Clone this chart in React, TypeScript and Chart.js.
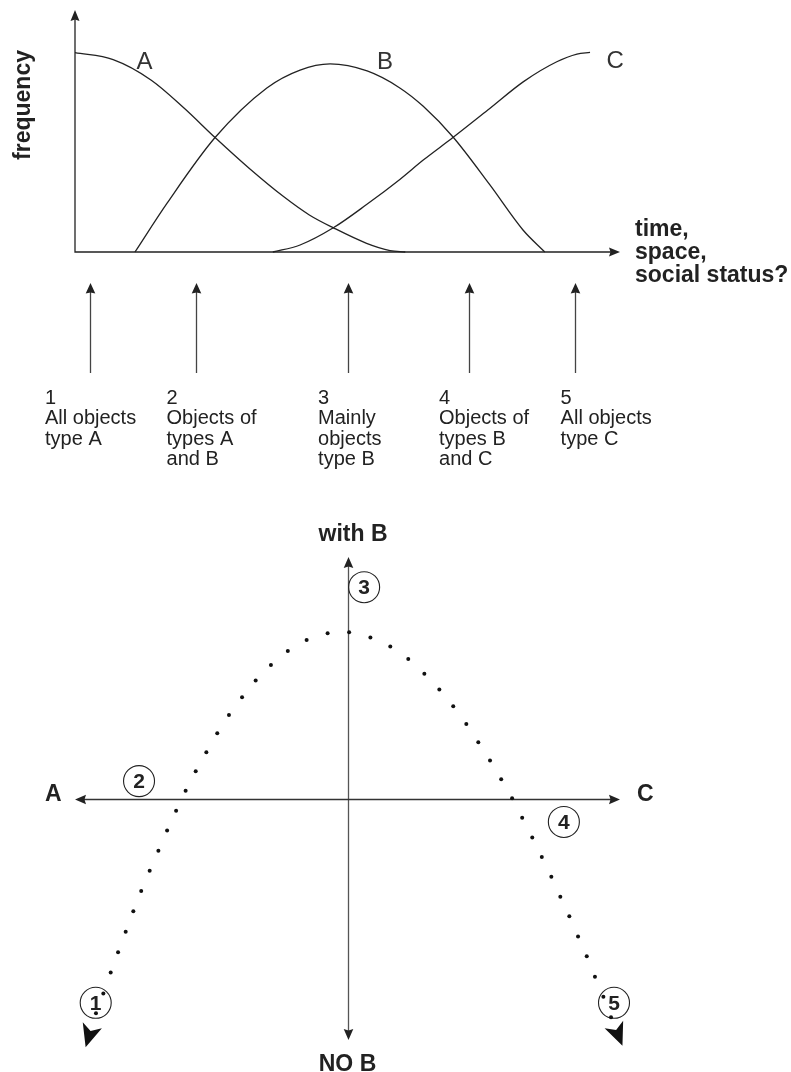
import React, { useEffect, useRef } from "react";
import { Chart, registerables } from "chart.js";

Chart.register(...registerables);

// ================= TOP CHART DATA =================
// x: 0..100 along "time, space, social status?" ; y: 0..100 frequency
const curveA = [
  { x: 0, y: 82.4 }, { x: 7, y: 79.5 }, { x: 14, y: 71.0 }, { x: 20, y: 59.5 },
  { x: 25.7, y: 47.3 }, { x: 32, y: 34.5 }, { x: 38.2, y: 23.0 }, { x: 43, y: 15.3 },
  { x: 47.4, y: 10.0 }, { x: 53.5, y: 3.6 }, { x: 57.8, y: 0.6 }, { x: 60.6, y: 0 },
];
const curveB = [
  { x: 11.0, y: 0 }, { x: 16.9, y: 20.2 }, { x: 25.7, y: 47.3 }, { x: 35.2, y: 67.8 },
  { x: 41.3, y: 75.2 }, { x: 46.8, y: 77.7 }, { x: 53.6, y: 74.8 }, { x: 59.6, y: 67.8 },
  { x: 63.9, y: 60.2 }, { x: 69.4, y: 47.4 }, { x: 76.1, y: 27.8 }, { x: 82.2, y: 9.1 },
  { x: 86.2, y: 0 },
];
const curveC = [
  { x: 36.3, y: 0 }, { x: 41.3, y: 2.9 }, { x: 47.4, y: 10.0 }, { x: 53.5, y: 19.6 },
  { x: 59.6, y: 30.0 }, { x: 63.9, y: 38.0 }, { x: 69.4, y: 47.4 }, { x: 76.1, y: 59.3 },
  { x: 82.3, y: 70.4 }, { x: 88.4, y: 78.6 }, { x: 92.1, y: 81.8 }, { x: 94.5, y: 82.5 },
];
const curveNames = ["A", "B", "C"];
const curveNamePos = [
  { x: 12.75, y: 78.3 },
  { x: 56.9, y: 78.3 },
  { x: 99.1, y: 78.7 },
];
const stageArrowX = [2.8, 22.2, 50.1, 72.3, 91.8];
const stageTextX = [-5.5, 16.8, 44.6, 66.8, 89.1];
const stageTexts = [
  ["1", "All objects", "type A"],
  ["2", "Objects of", "types A", "and B"],
  ["3", "Mainly", "objects", "type B"],
  ["4", "Objects of", "types B", "and C"],
  ["5", "All objects", "type C"],
];
const topYTitle = "frequency";
const topXTitle = ["time,", "space,", "social status?"];

// ================= BOTTOM CHART DATA =================
// x: -100 (A) .. 100 (C) ; y: -100 (NO B) .. 100 (with B)
const pathDots = [
  { x: -92.3, y: -88.9 }, { x: -89.6, y: -80.7 }, { x: -86.9, y: -72.1 }, { x: -84.2, y: -63.7 },
  { x: -81.4, y: -55.2 }, { x: -78.6, y: -46.7 }, { x: -75.7, y: -38.3 }, { x: -72.6, y: -29.9 },
  { x: -69.4, y: -21.6 }, { x: -66.2, y: -13.3 }, { x: -62.9, y: -5.1 }, { x: -59.4, y: 3.2 },
  { x: -55.7, y: 11.3 }, { x: -51.8, y: 19.1 }, { x: -47.8, y: 27.0 }, { x: -43.5, y: 34.6 },
  { x: -38.7, y: 41.9 }, { x: -33.7, y: 48.9 }, { x: -28.1, y: 55.3 }, { x: -21.9, y: 61.1 },
  { x: -15.0, y: 65.6 }, { x: -7.3, y: 68.4 }, { x: 0.6, y: 68.8 }, { x: 8.4, y: 66.7 },
  { x: 15.7, y: 62.9 }, { x: 22.3, y: 57.8 }, { x: 28.2, y: 51.7 }, { x: 33.7, y: 45.1 },
  { x: 38.8, y: 38.2 }, { x: 43.6, y: 30.8 }, { x: 48.0, y: 23.3 }, { x: 52.3, y: 15.7 },
  { x: 56.4, y: 8.0 }, { x: 60.4, y: 0.1 }, { x: 64.1, y: -8.0 }, { x: 67.8, y: -16.1 },
  { x: 71.3, y: -24.2 }, { x: 74.8, y: -32.4 }, { x: 78.1, y: -40.7 }, { x: 81.4, y: -48.8 },
  { x: 84.6, y: -57.1 }, { x: 87.8, y: -65.3 }, { x: 90.8, y: -73.8 }, { x: 93.9, y: -82.1 },
  { x: 96.7, y: -90.6 },
];
const pathArrowTips = [
  { x: -96.1, y: -103.0, from: { x: -92.3, y: -88.9 } },
  { x: 100.9, y: -102.4, from: { x: 96.7, y: -90.6 } },
];
const stageCircleLabels = ["1", "2", "3", "4", "5"];
const stageCirclePos = [
  { x: -92.4, y: -84.6 },
  { x: -76.5, y: 7.2 },
  { x: 6.1, y: 87.5 },
  { x: 79.4, y: -9.7 },
  { x: 97.8, y: -84.6 },
];
const axisEndLabels = { top: "with B", bottom: "NO B", left: "A", right: "C" };

const FONT = '"Liberation Sans", Arial, Helvetica, sans-serif';
const INK = "#222";

function arrowHead(
  ctx: CanvasRenderingContext2D,
  x: number,
  y: number,
  angle: number,
  len: number,
  half: number,
  notch: number
) {
  const c = Math.cos(angle);
  const s = Math.sin(angle);
  const bx = x - len * c;
  const by = y - len * s;
  ctx.beginPath();
  ctx.moveTo(x, y);
  ctx.lineTo(bx - half * s, by + half * c);
  ctx.lineTo(x - (len - notch) * c, y - (len - notch) * s);
  ctx.lineTo(bx + half * s, by - half * c);
  ctx.closePath();
  ctx.fill();
}

const topDecor = {
  id: "topDecor",
  afterDraw(chart: any) {
    const ctx: CanvasRenderingContext2D = chart.ctx;
    const xs = chart.scales.x;
    const ys = chart.scales.y;
    const { left, right, top, bottom } = chart.chartArea;
    ctx.save();
    ctx.strokeStyle = INK;
    ctx.fillStyle = INK;
    ctx.lineWidth = 1.3;
    // axes
    ctx.beginPath();
    ctx.moveTo(left, top + 8);
    ctx.lineTo(left, bottom);
    ctx.lineTo(right - 8, bottom);
    ctx.stroke();
    arrowHead(ctx, left, top, -Math.PI / 2, 11, 4.5, 1.5);
    arrowHead(ctx, right, bottom, 0, 11, 4.5, 1.5);

    // curve names
    ctx.fillStyle = "#333";
    ctx.font = `300 24px ${FONT}`;
    ctx.textAlign = "center";
    ctx.textBaseline = "middle";
    curveNames.forEach((n, i) => {
      ctx.fillText(n, xs.getPixelForValue(curveNamePos[i].x), ys.getPixelForValue(curveNamePos[i].y));
    });

    // y title
    ctx.fillStyle = INK;
    ctx.font = `bold 23px ${FONT}`;
    ctx.save();
    ctx.translate(30, (top + bottom) / 2 - 26);
    ctx.rotate(-Math.PI / 2);
    ctx.textAlign = "center";
    ctx.textBaseline = "alphabetic";
    ctx.fillText(topYTitle, 0, 0);
    ctx.restore();

    // x title
    ctx.textAlign = "left";
    ctx.textBaseline = "alphabetic";
    topXTitle.forEach((t, i) => {
      ctx.fillText(t, right + 15, bottom - 16 + i * 23);
    });

    // stage arrows
    ctx.strokeStyle = "#444";
    ctx.fillStyle = INK;
    ctx.lineWidth = 1.3;
    stageArrowX.forEach((v) => {
      const px = Math.round(xs.getPixelForValue(v)) + 0.5;
      ctx.beginPath();
      ctx.moveTo(px, bottom + 121);
      ctx.lineTo(px, bottom + 38);
      ctx.stroke();
      arrowHead(ctx, px, bottom + 31, -Math.PI / 2, 10.5, 4.8, 1);
    });

    // stage texts
    ctx.fillStyle = INK;
    ctx.font = `20px ${FONT}`;
    ctx.textAlign = "left";
    ctx.textBaseline = "alphabetic";
    stageTexts.forEach((lines, i) => {
      const px = xs.getPixelForValue(stageTextX[i]);
      lines.forEach((l, j) => {
        ctx.fillText(l, px, bottom + 151.5 + j * 20.5);
      });
    });
    ctx.restore();
  },
};

const bottomDecor = {
  id: "bottomDecor",
  beforeDatasetsDraw(chart: any) {
    const ctx: CanvasRenderingContext2D = chart.ctx;
    const xs = chart.scales.x;
    const ys = chart.scales.y;
    const { left, right, top, bottom } = chart.chartArea;
    const cx = Math.round(xs.getPixelForValue(0)) + 0.5;
    const cy = Math.round(ys.getPixelForValue(0)) + 0.5;
    ctx.save();
    ctx.lineWidth = 1.3;
    // vertical axis
    ctx.strokeStyle = "#555";
    ctx.fillStyle = INK;
    ctx.beginPath();
    ctx.moveTo(cx, top + 8);
    ctx.lineTo(cx, bottom - 8);
    ctx.stroke();
    arrowHead(ctx, cx, top, -Math.PI / 2, 11, 4.8, 1.5);
    arrowHead(ctx, cx, bottom, Math.PI / 2, 11, 4.8, 1.5);
    // horizontal axis
    ctx.strokeStyle = "#333";
    ctx.beginPath();
    ctx.moveTo(left + 8, cy);
    ctx.lineTo(right - 8, cy);
    ctx.stroke();
    arrowHead(ctx, left, cy, Math.PI, 11, 4.8, 1.5);
    arrowHead(ctx, right, cy, 0, 11, 4.8, 1.5);

    // axis end labels
    ctx.fillStyle = INK;
    ctx.font = `bold 23px ${FONT}`;
    ctx.textBaseline = "alphabetic";
    ctx.textAlign = "center";
    ctx.fillText(axisEndLabels.top, cx + 4.5, top - 16);
    ctx.fillText(axisEndLabels.bottom, cx - 1, bottom + 31);
    ctx.textAlign = "left";
    ctx.fillText(axisEndLabels.left, left - 30, cy + 1);
    ctx.fillText(axisEndLabels.right, right + 17, cy + 1);

    // circles
    ctx.strokeStyle = INK;
    ctx.lineWidth = 1.1;
    ctx.font = `bold 21px ${FONT}`;
    ctx.textAlign = "center";
    ctx.textBaseline = "middle";
    stageCircleLabels.forEach((lab, i) => {
      const px = xs.getPixelForValue(stageCirclePos[i].x);
      const py = ys.getPixelForValue(stageCirclePos[i].y);
      ctx.beginPath();
      ctx.arc(px, py, 15.5, 0, Math.PI * 2);
      ctx.stroke();
      ctx.fillText(lab, px, py + 1);
    });

    // arrowheads at path ends
    ctx.fillStyle = "#111";
    pathArrowTips.forEach((t) => {
      const tx = xs.getPixelForValue(t.x);
      const ty = ys.getPixelForValue(t.y);
      const fx = xs.getPixelForValue(t.from.x);
      const fy = ys.getPixelForValue(t.from.y);
      const ang = Math.atan2(ty - fy, tx - fx);
      arrowHead(ctx, tx, ty, ang, 23, 10, 6);
    });
    ctx.restore();
  },
};

export default function App() {
  const topRef = useRef<HTMLCanvasElement | null>(null);
  const botRef = useRef<HTMLCanvasElement | null>(null);

  useEffect(() => {
    const lineDs = (data: any[]) => ({
      data,
      showLine: true,
      borderColor: INK,
      borderWidth: 1.3,
      pointRadius: 0,
      cubicInterpolationMode: "monotone" as const,
      fill: false,
      clip: false as any,
    });
    const top = new Chart(topRef.current!, {
      type: "scatter",
      data: { datasets: [lineDs(curveA), lineDs(curveB), lineDs(curveC)] },
      options: {
        animation: false,
        responsive: false,
        events: [],
        layout: { padding: { left: 75, right: 171, top: 10, bottom: 248 } },
        plugins: { legend: { display: false }, tooltip: { enabled: false } },
        scales: {
          x: { type: "linear", min: 0, max: 100, display: false },
          y: { type: "linear", min: 0, max: 100, display: false },
        },
      },
      plugins: [topDecor],
    });
    const bottom = new Chart(botRef.current!, {
      type: "scatter",
      data: {
        datasets: [
          {
            data: pathDots,
            showLine: false,
            pointRadius: 2,
            pointBorderWidth: 0,
            pointBackgroundColor: "#111",
            clip: false as any,
          },
        ],
      },
      options: {
        animation: false,
        responsive: false,
        events: [],
        layout: { padding: { left: 75, right: 171, top: 57, bottom: 32 } },
        plugins: { legend: { display: false }, tooltip: { enabled: false } },
        scales: {
          x: { type: "linear", min: -100, max: 100, display: false },
          y: { type: "linear", min: -100, max: 100, display: false },
        },
      },
      plugins: [bottomDecor],
    });
    return () => {
      top.destroy();
      bottom.destroy();
    };
  }, []);

  return (
    <div style={{ position: "absolute", left: 0, top: 0, width: 791, height: 1072, background: "#fff" }}>
      <canvas
        ref={topRef}
        width={791}
        height={500}
        style={{ position: "absolute", left: 0, top: 0, width: 791, height: 500 }}
      />
      <canvas
        ref={botRef}
        width={791}
        height={572}
        style={{ position: "absolute", left: 0, top: 500, width: 791, height: 572 }}
      />
    </div>
  );
}
